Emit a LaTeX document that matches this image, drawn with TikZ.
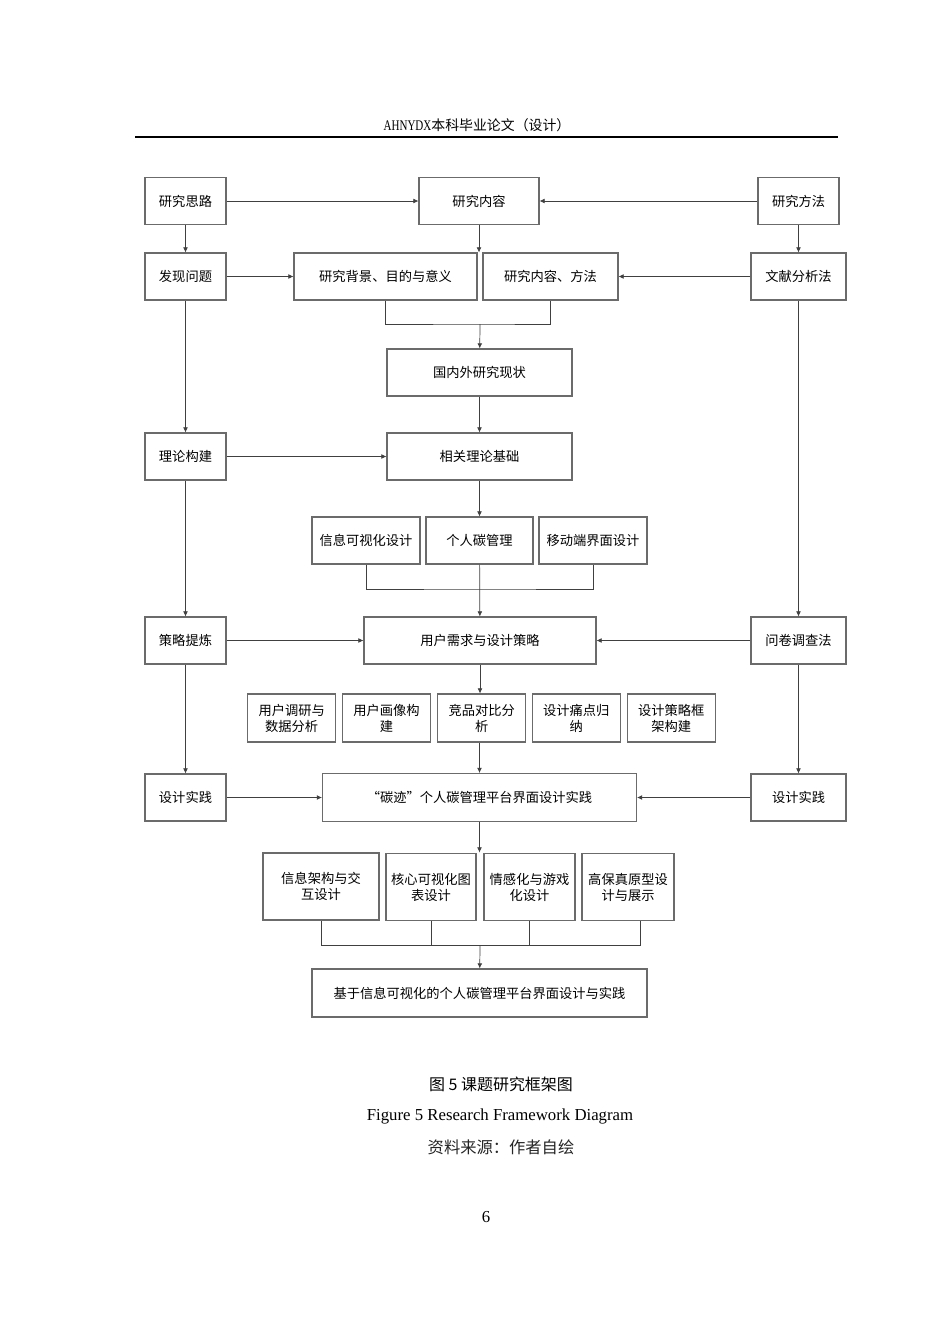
\documentclass[tikz,border=0pt]{standalone}
\usepackage{fontspec}
\setmainfont{Liberation Serif}
\newfontfamily\cjk{Noto Sans CJK SC}
\newfontfamily\hdlatin[FakeStretch=0.75]{Liberation Serif}
\usetikzlibrary{arrows.meta}
\def\px{0.6263pt}

\begin{document}
\begin{tikzpicture}[x=\px,y=-\px,>={Latex[length=3.2pt,width=3pt]},
  box/.style={draw=black!58,line width=.65pt,inner sep=1pt,align=center,font=\cjk\fontsize{8.3}{10}\selectfont},
  wh/.style 2 args={minimum width=#1*\px,minimum height=#2*\px},
  ln/.style={draw=black!75,line width=.45pt}]
\fill[white] (0,0) rectangle (950,1344);
\node[font=\cjk\fontsize{8.7}{10}\selectfont] (hd) at (477,125) {{\hdlatin\fontsize{9.2}{10}\selectfont AHNYDX}本科毕业论文（设计）};
\draw[line width=.9pt] (135,137) -- (838,137);

\node[box,wh={81}{47}] (sl) at (185.5,201) {研究思路};
\node[box,wh={120}{47}] (nr) at (479,201) {研究内容};
\node[box,wh={81}{47}] (ff) at (798.5,201) {研究方法};
\node[box,wh={81}{47}] (fx) at (185.5,276.5) {发现问题};
\node[box,wh={183}{47}] (bj) at (385.5,276.5) {研究背景、目的与意义};
\node[box,wh={135}{47}] (nf) at (550.5,276.5) {研究内容、方法};
\node[box,wh={95}{47}] (wx) at (798.5,276.5) {文献分析法};
\node[box,wh={185}{47}] (gn) at (479.5,372.5) {国内外研究现状};
\node[box,wh={81}{47}] (ll) at (185.5,456.5) {理论构建};
\node[box,wh={185}{47}] (jc) at (479.5,456.5) {相关理论基础};
\node[box,wh={108}{47}] (xx) at (366,540.5) {信息可视化设计};
\node[box,wh={107}{47}] (gr) at (479.5,540.5) {个人碳管理};
\node[box,wh={108}{47}] (yd) at (593,540.5) {移动端界面设计};
\node[box,wh={81}{47}] (cl) at (185.5,640.5) {策略提炼};
\node[box,wh={232}{47}] (xq) at (480,640.5) {用户需求与设计策略};
\node[box,wh={95}{47}] (wj) at (798.5,640.5) {问卷调查法};
\node[box,wh={88}{48}] (p1) at (291.7,718) {用户调研与\\数据分析};
\node[box,wh={88}{48}] (p2) at (386.5,718) {用户画像构\\建};
\node[box,wh={88}{48}] (p3) at (481.7,718) {竞品对比分\\析};
\node[box,wh={88}{48}] (p4) at (576.3,718) {设计痛点归\\纳};
\node[box,wh={88}{48}] (p5) at (671.2,718) {设计策略框\\架构建};
\node[box,wh={81}{47}] (sjl) at (185.5,797.5) {设计实践};
\node[box,wh={314}{48}] (tj) at (479.5,797.5) {“碳迹”个人碳管理平台界面设计实践};
\node[box,wh={95}{47}] (sjr) at (798.5,797.5) {设计实践};
\node[box,wh={116}{67}] (q1) at (321,886.5) {信息架构与交\\互设计};
\node[box,wh={90}{67}] (q2) at (431,887) {核心可视化图\\表设计};
\node[box,wh={91}{67}] (q3) at (529.5,887) {情感化与游戏\\化设计};
\node[box,wh={92}{67}] (q4) at (628,887) {高保真原型设\\计与展示};
\node[box,wh={335}{48}] (jy) at (479.5,993) {基于信息可视化的个人碳管理平台界面设计与实践};
\coordinate (m1) at (480,324);
\coordinate (m2) at (480,589);
\coordinate (m3) at (480,945);
\coordinate (q4b) at (640,920.5);

\draw[ln,->] (sl) -- (nr);
\draw[ln,->] (ff) -- (nr);
\draw[ln,->] (sl) -- (fx);
\draw[ln,->] (ff) -- (wx);
\draw[ln,->] (nr) -- (nr |- bj.north);
\draw[ln,->] (fx) -- (bj);
\draw[ln,->] (wx) -- (nf);
\draw[ln] (bj.south) |- (m1) -| (nf.south);
\draw[ln,->] (m1) -- (gn);
\draw[ln,->] (fx) -- (ll);
\draw[ln,->] (gn) -- (jc);
\draw[ln,->] (ll) -- (jc);
\draw[ln,->] (jc) -- (gr);
\draw[ln] (xx.south) |- (m2) -| (yd.south);
\draw[ln,->] (gr) -- (xq);
\draw[ln,->] (ll) -- (cl);
\draw[ln,->] (wx) -- (wj);
\draw[ln,->] (cl) -- (xq);
\draw[ln,->] (wj) -- (xq);
\draw[ln,->] (xq) -- (xq |- p3.north);
\draw[ln,->] (p3.south -| tj) -- (tj);
\draw[ln,->] (cl) -- (sjl);
\draw[ln,->] (wj) -- (sjr);
\draw[ln,->] (sjl) -- (tj);
\draw[ln,->] (sjr) -- (tj);
\draw[ln,->] (tj) -- (tj |- q1.north);
\draw[ln] (q1.south) |- (m3) -| (q4b);
\draw[ln] (q2.south) -- (q2.south |- m3);
\draw[ln] (q3.south) -- (q3.south |- m3);
\draw[ln,->] (m3) -- (jy);

\node[font=\cjk\fontsize{10}{12}\selectfont] (cap) at (501,1084) {图 5 课题研究框架图};
\node[font=\fontsize{10.5}{12}\selectfont] (capen) at (500,1116) {Figure 5 Research Framework Diagram};
\node[font=\cjk\fontsize{10.2}{12}\selectfont,text=black!85] (src) at (501,1147) {资料来源：作者自绘};
\node[font=\fontsize{10.5}{12}\selectfont] (pg) at (486,1217) {6};
\end{tikzpicture}
\end{document}
